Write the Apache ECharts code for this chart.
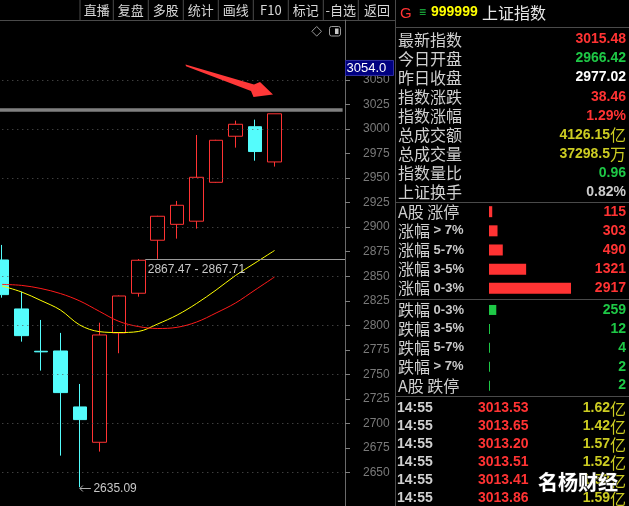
<!DOCTYPE html>
<html><head><meta charset="utf-8">
<script src="https://cdn.jsdelivr.net/npm/echarts@6/dist/echarts.min.js"></script>
<style>html,body{margin:0;padding:0;background:#000;overflow:hidden}#c{width:629px;height:506px}</style>
</head><body><div id="c"></div>
<script>
// ---------- data ----------
const days = ['K1','K2','K3','K4','K5','K6','K7','K8','K9','K10','K11','K12','K13','K14','K15','K16','K17','K18'];
const opens  = [2866.6, 2816.7, 2773.6, 2773.9, 2716.9, 2680.9, 2792.3, 2832.7, 2886.7, 2902.9, 2906.1, 2945.7, 2992.6, 3002.3, 2966.42];
const closes = [2831.3, 2789.5, 2773.0, 2731.5, 2704.0, 2790.2, 2829.9, 2866.3, 2911.1, 2922.3, 2950.8, 2988.5, 3004.8, 2977.02, 3015.48];
const lows   = [2828.2, 2783.4, 2753.9, 2667.3, 2635.09, 2671.4, 2771.6, 2829.2, 2867.71, 2888.3, 2898.5, 2945.2, 2981.0, 2967.7, 2961.7];
const highs  = [2881.9, 2834.3, 2805.5, 2792.3, 2740.3, 2802.7, 2830.5, 2867.47, 2911.6, 2926.7, 2993.9, 2989.0, 3008.5, 3009.5, 3015.48];
const maYellow = [2840.1, 2834.0, 2825.3, 2815.6, 2800.3, 2793.6, 2792.7, 2793.7, 2801.4, 2810.5, 2822.3, 2836.0, 2850.8, 2863.5, 2876.2];
const maRed    = [2841.7, 2840.7, 2837.5, 2832.4, 2824.8, 2814.3, 2804.1, 2798.8, 2796.8, 2798.0, 2803.4, 2812.6, 2822.8, 2836.0, 2849.2];
const priceMin = 2616, priceMax = 3111;
const tickMin = 2650, tickMax = 3050, tickStep = 25, gridStep = 50;
const refLine = 3019.35;
const crossValue = 3054.0;
const gapLow = 2867.47, gapHigh = 2867.71, gapIndex = 7;
const lowValue = 2635.09, lowIndex = 4;

const toolbarItems = ['直播','复盘','多股','统计','画线','F10','标记','-自选','返回'];
const stockCode = '999999', stockName = '上证指数';
const infoLabels = ['最新指数','今日开盘','昨日收盘','指数涨跌','指数涨幅','总成交额','总成交量','指数量比','上证换手'];
const infoValues = ['3015.48','2966.42','2977.02','38.46','1.29%','4126.15','37298.5','0.96','0.82%'];
const infoUnits  = ['','','','','','亿','万','',''];
const riseHead  = ['A股','涨幅','涨幅','涨幅','涨幅'];
const riseRange = ['涨停','> 7%','5-7%','3-5%','0-3%'];
const riseCounts = [115, 303, 490, 1321, 2917];
const fallHead  = ['跌幅','跌幅','跌幅','跌幅','A股'];
const fallRange = ['0-3%','3-5%','5-7%','> 7%','跌停'];
const fallCounts = [259, 12, 4, 2, 2];
const tickTimes  = ['14:55','14:55','14:55','14:55','14:55','14:55'];
const tickPrices = ['3013.53','3013.65','3013.20','3013.51','3013.41','3013.86'];
const tickVols   = ['1.62','1.42','1.57','1.52','1.53','1.59'];
const tickUnit = '亿';
const watermark = '名杨财经';

// ---------- styles ----------
const RED = '#ff3333', CYAN = '#54fcfc', GREEN = '#1ec846', YEL = '#cccc22';
const CJK = "'Noto Sans CJK SC', sans-serif";
const NUM = "'Liberation Sans', Arial, sans-serif";
const infoColors = [RED, GREEN, '#ffffff', RED, RED, YEL, YEL, GREEN, '#cccccc'];

const chart = echarts.init(document.getElementById('c'), null, {renderer:'canvas'});
const GTOP = 20, GH = 486, GL = -7.7, GW = 350.3;
const s = GH / (priceMax - priceMin);
const g1top = GTOP + (priceMax - tickMax) * s;
const g1h = (tickMax - tickMin) * s;

const ohlc = opens.map((o, i) => [o, closes[i], lows[i], highs[i]]);
const gridLines = [];
for (let v = tickMin; v <= tickMax; v += gridStep) gridLines.push({yAxis: v});

function catLabel(h, r) { return h + ' ' + r; }
const richLab = {
  a: {fontFamily: CJK, fontSize: 16, color: '#d0d0d0'},
  b: {fontFamily: NUM, fontSize: 13, fontWeight: 'bold', color: '#c8c8c8'}
};
function fmtLab(v) {
  const p = v.split(' ');
  return p.map(t => /[\u4e00-\u9fff]/.test(t) ? '{a|' + t + '}' : '{b|' + t + '}').join('{b| }');
}
const gb = {outerBoundsMode: 'none', containLabel: false};

const option = {
  backgroundColor: '#000',
  animation: false,
  grid: [
    Object.assign({left: GL, top: GTOP, width: GW, height: GH}, gb),
    Object.assign({left: GL, top: g1top, width: GW, height: g1h}, gb),
    Object.assign({left: 489, top: 202.1, width: 82, height: 95.75}, gb),
    Object.assign({left: 489, top: 300.5, width: 82, height: 94.6}, gb)
  ],
  xAxis: [
    {gridIndex: 0, type: 'category', data: days, show: false},
    {gridIndex: 1, type: 'category', data: days, show: false},
    {gridIndex: 2, type: 'value', min: 0, max: 2917, show: false},
    {gridIndex: 3, type: 'value', min: 0, max: 2917, show: false}
  ],
  yAxis: [
    {gridIndex: 0, type: 'value', min: priceMin, max: priceMax, position: 'right', offset: 2.4,
     axisLine: {show: true, lineStyle: {color: '#6a6a6a', width: 1}}, axisTick: {show: false},
     axisLabel: {show: false}, splitLine: {show: false}},
    {gridIndex: 1, type: 'value', min: tickMin, max: tickMax, interval: tickStep, position: 'right', offset: 2.4,
     axisLine: {show: false}, axisTick: {show: true, length: 5, lineStyle: {color: '#808080'}},
     axisLabel: {color: '#7a7a7a', fontSize: 12, fontFamily: NUM, margin: 18, showMinLabel: true, showMaxLabel: true,
       formatter: v => String(v)},
     splitLine: {show: false}},
    {gridIndex: 2, type: 'category', inverse: true, position: 'left',
     data: riseHead.map((h, i) => catLabel(h, riseRange[i])),
     axisLine: {show: false}, axisTick: {show: false},
     axisLabel: {align: 'left', margin: 91, formatter: fmtLab, rich: richLab}},
    {gridIndex: 2, type: 'category', inverse: true, position: 'right',
     data: riseCounts.map(String),
     axisLine: {show: false}, axisTick: {show: false},
     axisLabel: {align: 'right', margin: 55, color: RED, fontFamily: NUM, fontWeight: 'bold', fontSize: 14}},
    {gridIndex: 3, type: 'category', inverse: true, position: 'left',
     data: fallHead.map((h, i) => catLabel(h, fallRange[i])),
     axisLine: {show: false}, axisTick: {show: false},
     axisLabel: {align: 'left', margin: 91, formatter: fmtLab, rich: richLab}},
    {gridIndex: 3, type: 'category', inverse: true, position: 'right',
     data: fallCounts.map(String),
     axisLine: {show: false}, axisTick: {show: false},
     axisLabel: {align: 'right', margin: 55, color: GREEN, fontFamily: NUM, fontWeight: 'bold', fontSize: 14}}
  ],
  series: [
    {type: 'candlestick', xAxisIndex: 0, yAxisIndex: 0, data: ohlc, barWidth: 14,
     itemStyle: {color: '#000', color0: CYAN, borderColor: RED, borderColor0: CYAN, borderWidth: 1},
     markLine: {silent: true, symbol: 'none', label: {show: false}, animation: false,
       data: gridLines.map(d => Object.assign({lineStyle: {color: '#5a5a5a', type: [1, 4], width: 1}}, d))
         .concat([{yAxis: refLine, lineStyle: {color: '#808080', type: 'solid', width: 3.5}}])}},
    {type: 'line', xAxisIndex: 0, yAxisIndex: 0, data: maYellow, showSymbol: false, smooth: 0.35,
     lineStyle: {color: '#ffff00', width: 1}, z: 3},
    {type: 'line', xAxisIndex: 0, yAxisIndex: 0, data: maRed, showSymbol: false, smooth: 0.35,
     lineStyle: {color: '#ff1a1a', width: 1}, z: 3},
    {type: 'bar', xAxisIndex: 2, yAxisIndex: 2, data: riseCounts, barWidth: 11, barMinHeight: 1,
     itemStyle: {color: RED}},
    {type: 'bar', xAxisIndex: 3, yAxisIndex: 4, data: fallCounts, barWidth: 10, barMinHeight: 1,
     itemStyle: {color: GREEN}}
  ]
};
chart.setOption(option);

// ---------- overlay (annotations / panel text) ----------
const G = [];
const lineC = '#4a4a4a';
const seps = [80, 113.3, 148.3, 183.3, 218.3, 253.3, 288.3, 323.3, 358.3, 395.5];
G.push({type: 'line', shape: {x1: 0, y1: 20.5, x2: 395.5, y2: 20.5}, style: {stroke: lineC, lineWidth: 1}});
seps.forEach(x => G.push({type: 'line', shape: {x1: x, y1: 0, x2: x, y2: 20}, style: {stroke: lineC, lineWidth: 1}}));
toolbarItems.forEach((t, i) => G.push({type: 'text', x: (seps[i] + seps[i + 1]) / 2, y: 10.5,
  style: {text: t, fill: '#d8d8d8', font: "13px " + CJK, textAlign: 'center', textVerticalAlign: 'middle'}}));
G.push({type: 'line', shape: {x1: 395.5, y1: 0, x2: 395.5, y2: 506}, style: {stroke: lineC, lineWidth: 1}});
[27.5, 202.5, 299.5, 396.5].forEach(y => G.push({type: 'line', shape: {x1: 395.5, y1: y, x2: 629, y2: y}, style: {stroke: lineC, lineWidth: 1}}));
G.push({type: 'text', x: 400, y: 14, style: {text: 'G', fill: RED, font: "15px " + NUM, textVerticalAlign: 'middle'}});
G.push({type: 'text', x: 419, y: 13, style: {text: '≡', fill: GREEN, font: "12px " + NUM, textVerticalAlign: 'middle'}});
G.push({type: 'text', x: 431, y: 12.5, style: {text: stockCode, fill: '#ffff00', font: "bold 14px " + NUM, textVerticalAlign: 'middle'}});
G.push({type: 'text', x: 482, y: 13, style: {text: stockName, fill: '#e8e8e8', font: "16px " + CJK, textVerticalAlign: 'middle'}});
infoLabels.forEach((t, i) => {
  const y = 39.5 + 19.05 * i;
  G.push({type: 'text', x: 398, y: y, style: {text: t, fill: '#d0d0d0', font: "16px " + CJK, textVerticalAlign: 'middle'}});
  G.push({type: 'text', x: 626, y: y, style: {
    text: infoUnits[i] ? '{n|' + infoValues[i] + '}{u|' + infoUnits[i] + '}' : '{n|' + infoValues[i] + '}',
    textAlign: 'right', textVerticalAlign: 'middle',
    rich: {n: {fill: infoColors[i], font: "bold 14px " + NUM}, u: {fill: infoColors[i], font: "16px " + CJK}}}});
});
tickTimes.forEach((t, i) => {
  const y = 408.5 + 18 * i;
  G.push({type: 'text', x: 397, y: y, style: {text: t, fill: '#d0d0d0', font: "bold 14px " + NUM, textVerticalAlign: 'middle'}});
  G.push({type: 'text', x: 528.5, y: y, style: {text: tickPrices[i], fill: RED, font: "bold 14px " + NUM, textAlign: 'right', textVerticalAlign: 'middle'}});
  G.push({type: 'text', x: 626, y: y, style: {text: '{n|' + tickVols[i] + '}{u|' + tickUnit + '}', textAlign: 'right', textVerticalAlign: 'middle',
    rich: {n: {fill: YEL, font: "bold 14px " + NUM}, u: {fill: YEL, font: "16px " + CJK}}}});
});
G.push({type: 'text', x: 538, y: 482, z: 100, style: {text: watermark, fill: '#ffffff', font: "bold 20px " + CJK,
  textVerticalAlign: 'middle', stroke: '#222', lineWidth: 1}});
G.push({type: 'polygon', shape: {points: [[316.7, 26.5], [321.5, 31.3], [316.7, 36.1], [311.9, 31.3]]}, style: {fill: 'none', stroke: '#9a9a9a', lineWidth: 1}});
G.push({type: 'rect', shape: {x: 329.5, y: 26.5, width: 11, height: 9.5, r: 2}, style: {fill: 'none', stroke: '#9a9a9a', lineWidth: 1}});
G.push({type: 'rect', shape: {x: 335, y: 28.5, width: 3.5, height: 5.5}, style: {fill: '#c8c8c8'}});
G.push({type: 'polygon', z: 50, shape: {points: [[185.5, 64.6], [254, 84.5], [260, 82], [273, 94.5], [253.5, 97], [251, 91], [186, 66.2]]},
  style: {fill: '#ff3838'}});
const yCross = chart.convertToPixel({xAxisIndex: 0, yAxisIndex: 0}, [0, crossValue])[1];
G.push({type: 'rect', z: 50, shape: {x: 345.5, y: yCross - 15.5, width: 48, height: 15}, style: {fill: '#000080', stroke: '#3030a0', lineWidth: 1}});
G.push({type: 'text', z: 51, x: 346.5, y: yCross - 8, style: {text: crossValue.toFixed(1), fill: '#ffffff', font: "13px " + NUM, textVerticalAlign: 'middle'}});
const pg = chart.convertToPixel({xAxisIndex: 0, yAxisIndex: 0}, [gapIndex, gapHigh]);
G.push({type: 'line', z: 40, shape: {x1: pg[0] + 7, y1: Math.round(pg[1]) + 0.5, x2: 345, y2: Math.round(pg[1]) + 0.5}, style: {stroke: '#9a9a9a', lineWidth: 1}});
G.push({type: 'text', z: 40, x: pg[0] + 9.5, y: pg[1] + 10.5, style: {text: gapLow.toFixed(2) + ' - ' + gapHigh.toFixed(2), fill: '#c8c8c8', font: "12px " + NUM, textVerticalAlign: 'middle'}});
const pl = chart.convertToPixel({xAxisIndex: 0, yAxisIndex: 0}, [lowIndex, lowValue]);
const ly = Math.round(pl[1] + 1) + 0.5;
G.push({type: 'line', z: 40, shape: {x1: pl[0], y1: ly, x2: pl[0] + 11, y2: ly}, style: {stroke: '#b0b0b0', lineWidth: 1}});
G.push({type: 'polyline', z: 40, shape: {points: [[pl[0] + 3, ly - 3], [pl[0], ly], [pl[0] + 3, ly + 3]]}, style: {stroke: '#b0b0b0', lineWidth: 1, fill: 'none'}});
G.push({type: 'text', z: 40, x: pl[0] + 13.5, y: ly, style: {text: lowValue.toFixed(2), fill: '#c8c8c8', font: "12px " + NUM, textVerticalAlign: 'middle'}});

chart.setOption({graphic: G});
</script>
</body></html>
